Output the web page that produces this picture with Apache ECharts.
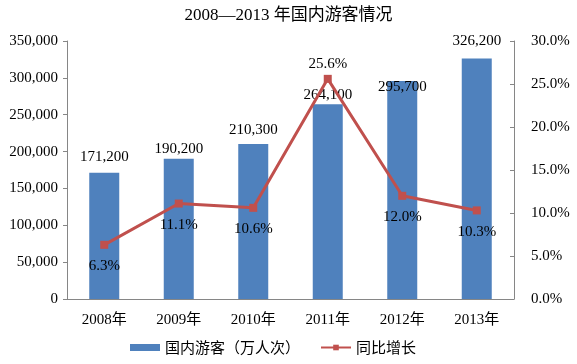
<!DOCTYPE html>
<html><head><meta charset="utf-8">
<script src="https://cdn.jsdelivr.net/npm/echarts@6/dist/echarts.min.js"></script>
<style>html,body{margin:0;padding:0;background:#fff}#c{width:577px;height:364px}</style>
</head><body><div id="c"></div>
<script>
const categories = ['2008年','2009年','2010年','2011年','2012年','2013年'];
const tourists = [171200, 190200, 210300, 264100, 295700, 326200];
const growth = [6.3, 11.1, 10.6, 25.6, 12.0, 10.3];
const FONT = '"Liberation Serif","Noto Sans CJK SC",serif';
const barLabelDist = [8, 2, 6, 2, -14, 10];
const growthLabelPos = ['bottom','bottom','bottom','top','bottom','bottom'];
const chart = echarts.init(document.getElementById('c'));
chart.setOption({
  animation: false,
  textStyle: {fontFamily: FONT},
  title: {text: '2008—2013 年国内游客情况', left: 'center', top: 2,
    textStyle: {fontFamily: FONT, fontSize: 17, fontWeight: 'normal', color: '#000'}},
  legend: {bottom: 4, left: 125, itemGap: 20, itemWidth: 30, itemHeight: 7,
    textStyle: {fontFamily: '"Noto Sans CJK SC",sans-serif', fontSize: 15, color: '#000'},
    data: [{name: '国内游客（万人次）', icon: 'rect'}, {name: '同比增长'}]},
  grid: {left: 67, right: 63, top: 41, bottom: 65},
  xAxis: {type: 'category', data: categories,
    axisLine: {lineStyle: {color: '#868686'}},
    axisTick: {lineStyle: {color: '#868686'}, length: 5},
    axisLabel: {color: '#000', fontSize: 15, fontFamily: FONT, margin: 14}},
  yAxis: [
    {type: 'value', min: 0, max: 350000, interval: 50000,
      axisLine: {show: true, lineStyle: {color: '#868686'}},
      axisTick: {show: true, length: 4, lineStyle: {color: '#868686'}},
      splitLine: {show: false},
      axisLabel: {color: '#000', fontSize: 15, fontFamily: FONT, margin: 9,
        formatter: v => v.toLocaleString('en-US')}},
    {type: 'value', min: 0, max: 30, interval: 5, position: 'right',
      axisLine: {show: true, lineStyle: {color: '#868686'}},
      axisTick: {show: true, inside: true, length: 4, lineStyle: {color: '#868686'}},
      splitLine: {show: false},
      axisLabel: {color: '#000', fontSize: 15, fontFamily: FONT, margin: 17,
        formatter: v => v.toFixed(1) + '%'}}
  ],
  series: [
    {name: '国内游客（万人次）', type: 'bar', barWidth: 30,
      data: tourists.map((v, i) => ({value: v, label: {distance: barLabelDist[i]}})),
      itemStyle: {color: '#4F81BD'},
      label: {show: true, position: 'top', color: '#000', fontSize: 15, fontFamily: FONT,
        formatter: p => p.value.toLocaleString('en-US')}},
    {name: '同比增长', type: 'line', yAxisIndex: 1, z: 3,
      data: growth.map((v, i) => ({value: v,
        label: {position: growthLabelPos[i], distance: growthLabelPos[i] === 'top' ? 3 : 10}})),
      symbol: 'rect', symbolSize: 8,
      lineStyle: {color: '#C0504D', width: 3}, itemStyle: {color: '#C0504D'},
      label: {show: true, color: '#000', fontSize: 15, fontFamily: FONT,
        formatter: p => p.value.toFixed(1) + '%'}}
  ]
});
</script></body></html>
